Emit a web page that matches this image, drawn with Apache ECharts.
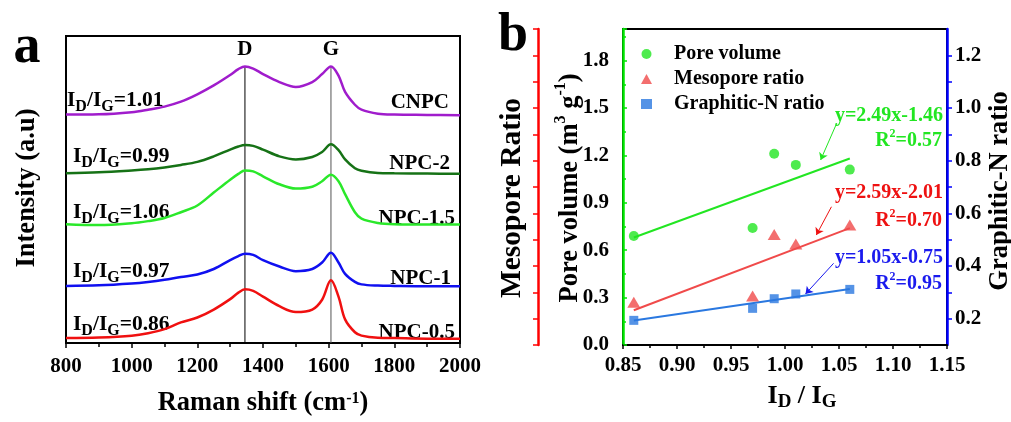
<!DOCTYPE html>
<html>
<head>
<meta charset="utf-8">
<script src="https://cdn.jsdelivr.net/npm/echarts@6.0.0/dist/echarts.min.js"></script>
<style>
html, body { margin: 0; padding: 0; background: #fff; }
#chart { width: 1011px; height: 422px; }
</style>
</head>
<body>
<div id="chart"></div>
<script>
// panel a: Raman spectra (offset, a.u.)
var shift = [800, 900, 1000, 1050, 1100, 1150, 1200, 1250, 1300, 1325, 1345, 1370, 1400, 1450, 1500, 1550, 1580, 1607, 1630, 1650, 1680, 1700, 1750, 1800, 1900, 2000];
var cnpc = [74.4, 74.5, 75.2, 76.0, 77.0, 78.6, 81.0, 83.9, 87.3, 89.2, 90.1, 89.4, 87.6, 85.0, 83.4, 85.0, 87.6, 90.1, 87.1, 81.8, 77.6, 76.0, 74.7, 74.4, 74.3, 74.2];
var npc2 = [55.3, 55.6, 56.2, 56.6, 57.2, 58.0, 59.0, 60.8, 63.0, 64.0, 64.5, 64.2, 63.0, 60.8, 59.8, 60.6, 62.2, 64.7, 62.8, 59.8, 56.9, 56.1, 55.4, 55.3, 55.2, 55.1];
var npc15 = [38.7, 38.4, 39.0, 39.7, 40.7, 42.6, 44.8, 49.0, 53.2, 55.1, 56.2, 55.9, 54.3, 51.7, 50.3, 50.9, 52.7, 54.8, 52.7, 48.5, 42.6, 40.5, 39.1, 38.7, 38.6, 38.6];
var npc1 = [18.6, 18.8, 19.4, 19.9, 20.6, 21.5, 22.3, 24.1, 27.0, 28.3, 29.1, 28.7, 27.0, 24.9, 23.4, 24.1, 26.2, 29.4, 26.2, 22.5, 19.9, 19.1, 18.7, 18.6, 18.5, 18.5];
var npc05 = [1.6, 1.8, 2.4, 3.2, 4.5, 6.7, 8.3, 10.9, 14.3, 16.4, 17.5, 17.0, 15.1, 12.0, 10.1, 10.9, 14.1, 20.4, 15.1, 7.7, 3.5, 2.4, 1.7, 1.6, 1.4, 1.4];
var sampleNames = ['CNPC', 'NPC-2', 'NPC-1.5', 'NPC-1', 'NPC-0.5'];
var idigRatios = ['1.01', '0.99', '1.06', '0.97', '0.86'];
var bandNames = ['D', 'G'];
var bandShift = [1345, 1607];

// panel b: correlations with ID/IG
var idig = [0.86, 0.97, 0.99, 1.01, 1.06];
var poreVolume = [0.69, 0.74, 1.21, 1.14, 1.11];
var mesoRatio = [0.27, 0.31, 0.70, 0.64, 0.76];
var graphiticN = [0.156, 0.232, 0.293, 0.323, 0.352];
var fitX = [0.86, 1.06];
var fitPore = [0.68, 1.18];
var fitMeso = [0.22, 0.74];
var fitGraphitic = [0.155, 0.355];
var equations = ['y=2.49x-1.46', 'y=2.59x-2.01', 'y=1.05x-0.75'];
var r2 = ['0.57', '0.70', '0.95'];
var arrowPore = [[1.048, 1.405], [1.033, 1.171]];
var arrowMeso = [[1.043, 0.875], [1.029, 0.696]];
var arrowGraphitic = [[1.045, 0.517], [1.019, 0.323]];

var SERIF = '"Liberation Serif", "Times New Roman", serif';
var specColors = ['#a01ccc', '#167216', '#2ae82a', '#1010f0', '#f01010'];
var GREEN = '#22e622', RED = '#f04a4a', BLUE = '#2a78e0';

function pairs(xs, ys) {
    return xs.map(function (x, i) { return [x, ys[i]]; });
}

// rich styles for graphic (zrender) texts: m/s = main/subscript, n/p = main/superscript
function zRich(color, size) {
    var base = { fontFamily: SERIF, fontWeight: 'bold', fill: color, verticalAlign: 'top' };
    return {
        m: Object.assign({ fontSize: size }, base),
        s: Object.assign({ fontSize: Math.round(size * 0.75), padding: [Math.round(size * 0.4), 0, 0, 0] }, base),
        n: Object.assign({ fontSize: size, padding: [Math.round(size * 0.2), 0, 0, 0] }, base),
        p: Object.assign({ fontSize: Math.round(size * 0.62), padding: [1, 0, 0, 0] }, base)
    };
}
function oRich(size) {
    var base = { fontFamily: SERIF, fontWeight: 'bold', color: '#000', verticalAlign: 'top' };
    return {
        m: Object.assign({ fontSize: size }, base),
        s: Object.assign({ fontSize: Math.round(size * 0.72), padding: [10, 0, 0, 0] }, base),
        n: Object.assign({ fontSize: size, padding: [4, 0, 0, 0] }, base),
        p: Object.assign({ fontSize: Math.round(size * 0.62), padding: [1, 0, 0, 0] }, base)
    };
}
function txt(x, y, text, color, align, size, rot) {
    return {
        type: 'text', x: x, y: y, rotation: rot || 0, silent: true,
        style: {
            text: text, fill: color, font: 'bold ' + size + 'px ' + SERIF,
            textAlign: align, align: align, verticalAlign: 'middle', textVerticalAlign: 'middle',
            rich: zRich(color, size)
        }
    };
}

var labelLeftX = [67, 73, 73, 73, 73];
var labelLeftY = [102, 158, 214, 273, 326];
var labelRightX = [449, 450, 455, 451, 455];
var labelRightY = [103, 164, 219, 279, 333];
var UP = Math.PI / 2;
var graphics = [
    txt(27, 48, 'a', '#000', 'center', 54),
    txt(513, 36, 'b', '#000', 'center', 54),
    txt(27, 188, 'Intensity (a.u)', '#000', 'center', 26.5, UP),
    txt(512, 198, 'Mesopore Ratio', '#000', 'center', 29.5, UP),
    txt(568, 188, '{n|Pore volume (m}{p|3}{n| g}{p|-1}{n|)}', '#000', 'center', 26.5, UP),
    txt(1000, 191, 'Graphitic-N ratio', '#000', 'center', 26.5, UP)
];
sampleNames.forEach(function (n, i) {
    graphics.push(txt(labelLeftX[i], labelLeftY[i], '{m|I}{s|D}{m|/I}{s|G}{m|=' + idigRatios[i] + '}', '#000', 'left', 21.5));
    graphics.push(txt(labelRightX[i], labelRightY[i], n, '#000', 'right', 21));
});
var eqColors = ['#22e622', '#ee1111', '#1a1aee'];
var eqY = [116, 193, 258];
var r2Y = [139, 219, 282];
equations.forEach(function (e, i) {
    graphics.push(txt(943, eqY[i], e, eqColors[i], 'right', 20));
    graphics.push(txt(942, r2Y[i], '{n|R}{p|2}{n|=' + r2[i] + '}', eqColors[i], 'right', 20));
});

var axisNameStyle = { fontFamily: SERIF, fontWeight: 'bold', fontSize: 26, color: '#000' };
var tickLabel = { color: '#000', fontFamily: SERIF, fontWeight: 'bold', fontSize: 21 };

function arrowLine(pts, color) {
    return {
        silent: true, symbol: ['none', 'arrow'], symbolSize: 7,
        label: { show: false },
        lineStyle: { color: color, width: 1, type: 'solid' },
        data: [[{ coord: pts[0] }, { coord: pts[1] }]]
    };
}

var spectra = [cnpc, npc2, npc15, npc1, npc05];
var series = spectra.map(function (ys, i) {
    return {
        name: sampleNames[i], type: 'line', xAxisIndex: 0, yAxisIndex: 0,
        data: pairs(shift, ys), showSymbol: false, smooth: 0.35,
        lineStyle: { color: specColors[i], width: 2.5 }, itemStyle: { color: specColors[i] }, z: 3
    };
});
bandShift.forEach(function (b, i) {
    var top = cnpc[shift.indexOf(b)];
    series.push({
        type: 'line', xAxisIndex: 0, yAxisIndex: 0, symbolSize: 0, showSymbol: true, z: 2,
        lineStyle: { color: i === 0 ? '#000' : '#555', width: 1 },
        itemStyle: { color: 'transparent' },
        data: [
            { value: [b, top], label: { show: true, position: 'top', distance: 6, formatter: bandNames[i], color: '#000', fontFamily: SERIF, fontWeight: 'bold', fontSize: 21 } },
            [b, 0]
        ]
    });
});
series.push(
    { name: 'Pore volume', type: 'scatter', xAxisIndex: 1, yAxisIndex: 1, symbol: 'circle', symbolSize: 10, itemStyle: { color: GREEN }, data: pairs(idig, poreVolume), z: 4 },
    { name: 'Mesopore ratio', type: 'scatter', xAxisIndex: 1, yAxisIndex: 1, symbol: 'triangle', symbolSize: [13, 11], itemStyle: { color: RED }, data: pairs(idig, mesoRatio), z: 4 },
    { name: 'Graphitic-N ratio', type: 'scatter', xAxisIndex: 1, yAxisIndex: 1, symbol: 'rect', symbolSize: 9, itemStyle: { color: BLUE }, data: pairs(idig, graphiticN), z: 4 },
    { name: 'fitPore', type: 'line', xAxisIndex: 1, yAxisIndex: 1, symbol: 'none', lineStyle: { color: GREEN, width: 2 }, data: pairs(fitX, fitPore), markLine: arrowLine(arrowPore, GREEN) },
    { name: 'fitMeso', type: 'line', xAxisIndex: 1, yAxisIndex: 1, symbol: 'none', lineStyle: { color: RED, width: 2 }, data: pairs(fitX, fitMeso), markLine: arrowLine(arrowMeso, '#ee1111') },
    { name: 'fitGraphitic', type: 'line', xAxisIndex: 1, yAxisIndex: 1, symbol: 'none', lineStyle: { color: BLUE, width: 2 }, data: pairs(fitX, fitGraphitic), markLine: arrowLine(arrowGraphitic, '#1a1aee') }
);

var chart = echarts.init(document.getElementById('chart'), null, { renderer: 'canvas' });
chart.setOption({
    animation: false,
    backgroundColor: '#fff',
    textStyle: { fontFamily: SERIF },
    grid: [
        { left: 66, top: 36, width: 394, height: 315, show: true, borderColor: '#000', borderWidth: 2, backgroundColor: 'transparent' },
        { left: 623, top: 29, width: 324, height: 316, show: true, borderColor: '#000', borderWidth: 2, backgroundColor: 'transparent' }
    ],
    legend: {
        orient: 'vertical', left: 636, top: 39, itemWidth: 11, itemHeight: 10, itemGap: 5,
        textStyle: { color: '#000', fontFamily: SERIF, fontWeight: 'bold', fontSize: 20, padding: [0, 0, 0, 17] },
        data: [
            { name: 'Pore volume', icon: 'circle' },
            { name: 'Mesopore ratio', icon: 'triangle' },
            { name: 'Graphitic-N ratio', icon: 'rect' }
        ]
    },
    xAxis: [
        {
            gridIndex: 0, type: 'value', min: 800, max: 2000, interval: 200,
            axisLine: { lineStyle: { color: '#000', width: 2 } },
            axisTick: { length: 5, lineStyle: { color: '#000', width: 1.5 } },
            minorTick: { show: true, splitNumber: 2, length: 4, lineStyle: { color: '#000', width: 1.5 } },
            splitLine: { show: false },
            axisLabel: Object.assign({ margin: 13, formatter: function (v) { return String(v); } }, tickLabel),
            name: '{m|Raman shift (cm}{p|-1}{m|)}', nameLocation: 'middle', nameGap: 47,
            nameTextStyle: Object.assign({ rich: oRich(26.5) }, axisNameStyle)
        },
        {
            gridIndex: 1, type: 'value', min: 0.85, max: 1.15, interval: 0.05,
            axisLine: { lineStyle: { color: '#000', width: 2 } },
            axisTick: { length: 4, lineStyle: { color: '#000', width: 1.5 } },
            minorTick: { show: true, splitNumber: 2, length: 3, lineStyle: { color: '#000', width: 1.5 } },
            splitLine: { show: false },
            axisLabel: Object.assign({ margin: 10, formatter: function (v) { return v.toFixed(2); } }, tickLabel),
            name: '{m|I}{s|D}{m| / I}{s|G}', nameLocation: 'middle', nameGap: 38,
            nameTextStyle: Object.assign({ rich: oRich(26) }, axisNameStyle, { padding: [0, 0, 0, 34] })
        }
    ],
    yAxis: [
        {
            gridIndex: 0, type: 'value', min: 0, max: 100,
            axisLine: { show: true, lineStyle: { color: '#000', width: 2 } },
            axisTick: { show: false }, axisLabel: { show: false }, splitLine: { show: false }
        },
        {
            gridIndex: 1, type: 'value', min: 0, max: 2, interval: 0.3, position: 'left',
            axisLine: { show: true, lineStyle: { color: '#00e600', width: 2.5 } },
            axisTick: { inside: true, length: 4, lineStyle: { color: '#00e600', width: 1.5 } },
            minorTick: { show: true, splitNumber: 2, length: 3, lineStyle: { color: '#00e600', width: 1.5 } },
            splitLine: { show: false },
            axisLabel: Object.assign({ margin: 14, showMaxLabel: false, formatter: function (v) { return v.toFixed(1); } }, tickLabel)
        },
        {
            gridIndex: 1, type: 'value', min: 0, max: 1.2, interval: 0.1, position: 'left', offset: 85,
            axisLine: { show: true, lineStyle: { color: '#ff0000', width: 2.5 } },
            axisTick: { length: 5, lineStyle: { color: '#ff0000', width: 1.5 } },
            axisLabel: { show: false }, splitLine: { show: false }
        },
        {
            gridIndex: 1, type: 'value', min: 0.1, max: 1.3, interval: 0.1, position: 'right',
            axisLine: { show: true, lineStyle: { color: '#0000ff', width: 2.5 } },
            axisTick: { length: 5, lineStyle: { color: '#0000ff', width: 1.5 } },
            splitLine: { show: false },
            axisLabel: Object.assign({
                margin: 8, showMinLabel: false, showMaxLabel: false,
                formatter: function (v) { return Math.round(v * 10) % 2 === 0 ? v.toFixed(1) : ''; }
            }, tickLabel)
        }
    ],
    graphic: graphics,
    series: series
});
</script>
</body>
</html>
